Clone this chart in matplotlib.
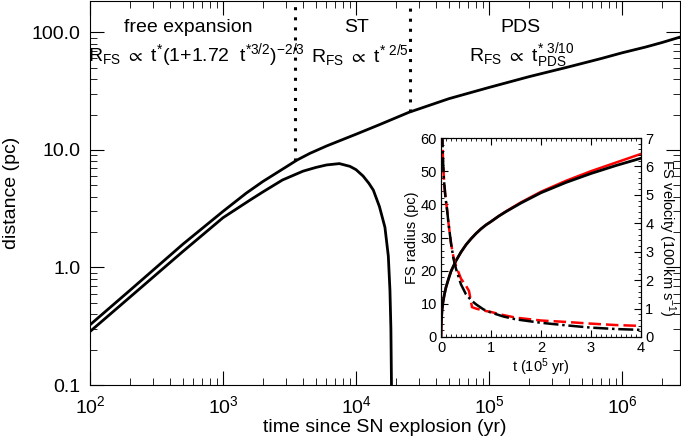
import matplotlib
matplotlib.use('Agg')
import matplotlib.pyplot as plt
from matplotlib.ticker import MultipleLocator, LogLocator, NullFormatter

plt.rcParams['font.family'] = ['Liberation Sans', 'DejaVu Sans']
plt.rcParams['mathtext.fontset'] = 'custom'              #keep math text in the same sans font
plt.rcParams['mathtext.rm'] = 'Liberation Sans'
plt.rcParams['mathtext.it'] = 'Liberation Sans:italic'
plt.rcParams['mathtext.default'] = 'regular'

#######main panel data#######
#forward shock radius, time in yr, radius in pc
t_fs = [100, 200, 500, 1000, 1500, 2000, 3000, 3600, 4500, 6000, 8000, 1e4, 1.5e4, 2.5e4,
        5e4, 1e5, 2e5, 4e5, 7e5, 1e6, 1.5e6, 2e6, 2.8e6]
r_fs = [0.325, 0.64, 1.58, 3.0, 4.3, 5.4, 7.2, 8.2, 9.35, 10.8, 12.3, 13.6, 16.4, 20.9,
        27.3, 34.0, 42.0, 51.0, 60.0, 67.0, 75.0, 82.0, 92.0]

#reverse shock radius
t_rs = [100, 200, 500, 1000, 1600, 2000, 2800, 4000, 5000, 6000, 7500, 9000, 1.0e4,
        1.13e4, 1.25e4, 1.35e4, 1.5e4, 1.65e4, 1.75e4, 1.8e4, 1.83e4, 1.86e4]
r_rs = [0.285, 0.56, 1.37, 2.65, 3.75, 4.4, 5.55, 6.6, 7.1, 7.45, 7.65, 7.25, 6.8,
        6.0, 5.2, 4.55, 3.3, 2.2, 1.25, 0.64, 0.3, 0.05]

#phase boundaries (dotted lines) and the radius where they meet the curve
phase_t = [3.5e3, 2.55e4]
phase_r = [8.1, 21.2]

phase_names = ['free expansion', 'ST', 'PDS']
phase_laws = [r'R$_{FS}$ $\propto$ t$^{*}$(1+1.72  t$^{*3/2}$)$^{-2/3}$',
              r'R$_{FS}$ $\propto$ t$^{*\ 2/5}$',
              r'R$_{FS}$ $\propto$ t$^{*\ 3/10}_{PDS}$']

ytick_vals = [0.1, 1.0, 10.0, 100.0]
ytick_labels = ['0.1', '1.0', '10.0', '100.0']

#######inset data, time in 1e5 yr#######
t_rad = [0, 0.005, 0.01, 0.02, 0.04, 0.07, 0.1, 0.15, 0.2, 0.3, 0.4, 0.5, 0.6, 0.7, 0.8,
         0.9, 1.0, 1.15, 1.3, 1.6, 2.0, 2.5, 3.0, 3.5, 4.0]
rad_black = [0, 3.5, 5.5, 8.0, 10.5, 13.0, 15.0, 17.5, 19.8, 23.0, 25.6, 27.8, 29.6, 31.2, 32.6,
             33.8, 34.8, 36.4, 37.8, 40.4, 43.5, 46.6, 49.3, 51.7, 53.9]
rad_red = [0, 3.5, 5.5, 8.0, 10.5, 13.0, 15.0, 17.5, 19.8, 23.0, 25.6, 27.8, 29.6, 31.2, 32.6,
           33.8, 34.8, 36.4, 37.9, 40.6, 43.8, 47.1, 50.0, 52.6, 55.2]

#velocity in 100 km/s
t_vb = [0.025, 0.04, 0.06, 0.09, 0.12, 0.15, 0.2, 0.25, 0.3, 0.4, 0.5, 0.6, 0.7, 0.85,
        1.0, 1.25, 1.5, 2.0, 2.5, 3.0, 3.5, 4.0]
v_black = [7.2, 6.2, 5.5, 4.9, 4.5, 4.0, 3.3, 2.75, 2.4, 1.85, 1.5, 1.3, 1.15, 0.97,
           0.86, 0.72, 0.62, 0.5, 0.41, 0.33, 0.28, 0.25]
t_vr = [0.025, 0.04, 0.06, 0.09, 0.12, 0.15, 0.2, 0.25, 0.3, 0.4, 0.5, 0.56, 0.62, 0.7,
        0.85, 1.0, 1.25, 1.5, 2.0, 2.5, 3.0, 3.5, 4.0]
v_red = [7.2, 6.2, 5.5, 4.9, 4.5, 4.0, 3.3, 2.8, 2.5, 2.05, 1.8, 1.62, 1.05, 1.0,
         0.93, 0.88, 0.77, 0.68, 0.58, 0.53, 0.47, 0.42, 0.39]

#####################plotting section##############
fig = plt.figure(figsize=(6.81, 4.46), dpi=100)
ax = fig.add_axes([90/681, 61/446, 590/681, 384/446])

ymax = 185
ax.plot(t_fs, r_fs, color='black', lw=2)
ax.plot(t_rs, r_rs, color='black', lw=2)
for tb, rb in zip(phase_t, phase_r):
    ax.plot([tb, tb], [rb, ymax], color='black', lw=2.2, ls=(0, (1, 2.3)))

ax.set_xscale('log')
ax.set_yscale('log')
ax.set_xlim(100, 2.73e6)
ax.set_ylim(0.1, ymax)
ax.set_yticks(ytick_vals)
ax.set_yticklabels(ytick_labels)
ax.yaxis.set_minor_locator(LogLocator(base=10, subs=range(2, 10)))
ax.yaxis.set_minor_formatter(NullFormatter())
ax.xaxis.set_minor_locator(LogLocator(base=10, subs=range(2, 10)))
ax.xaxis.set_minor_formatter(NullFormatter())
ax.tick_params(which='both', direction='in', top=True, right=True, labelsize=14)
ax.tick_params(which='major', length=10, pad=7)
ax.tick_params(which='minor', length=5)
ax.set_xlabel('time since SN explosion (yr)', fontsize=14, labelpad=2)
ax.set_ylabel('distance (pc)', fontsize=14, labelpad=8)

#phase names and scaling laws
name_x = [0.166, 0.451, 0.729]
law_x = [0.18, 0.458, 0.732]
for nm, lw_txt, xn, xl in zip(phase_names, phase_laws, name_x, law_x):
    ax.text(xn, 0.93, nm, transform=ax.transAxes, ha='center', va='center', fontsize=14)
    ax.text(xl, 0.858, lw_txt, transform=ax.transAxes, ha='center', va='center', fontsize=14)

#inset with radius and velocity
axin = fig.add_axes([441/681, 109/446, 200/681, 199/446])
axin.set_facecolor('white')
axin.plot(t_rad, rad_red, color='red', lw=1.8)
axin.plot(t_rad, rad_black, color='black', lw=2)
axin.set_xlim(0, 4)
axin.set_ylim(0, 60)
axin.xaxis.set_major_locator(MultipleLocator(1))
axin.xaxis.set_minor_locator(MultipleLocator(0.1))
axin.yaxis.set_major_locator(MultipleLocator(10))
axin.yaxis.set_minor_locator(MultipleLocator(2))
axin.tick_params(which='both', direction='in', top=True, right=False, labelsize=10.5)
axin.tick_params(which='major', length=5, pad=3)
axin.tick_params(which='minor', length=2.5)
axin.set_xlabel('t (10$^5$ yr)', fontsize=10.5, labelpad=1)
axin.set_ylabel('FS radius (pc)', fontsize=10.5, labelpad=1)

axv = axin.twinx()
axv.plot(t_vr, v_red, color='red', lw=1.8, ls=(0, (5, 2)))
axv.plot(t_vb, v_black, color='black', lw=1.8, ls=(0, (6, 1.5, 1, 1.5)))
axv.set_ylim(0, 7)
axv.yaxis.set_major_locator(MultipleLocator(1))
axv.yaxis.set_minor_locator(MultipleLocator(0.2))
axv.tick_params(which='both', direction='in', labelsize=10.5)
axv.tick_params(which='major', length=5, pad=3)
axv.tick_params(which='minor', length=2.5)
axv.set_ylabel('FS velocity (100 km s$^{-1}$)', fontsize=10.5, rotation=270, va='bottom', labelpad=2)

plt.savefig('out.png', dpi=100)
